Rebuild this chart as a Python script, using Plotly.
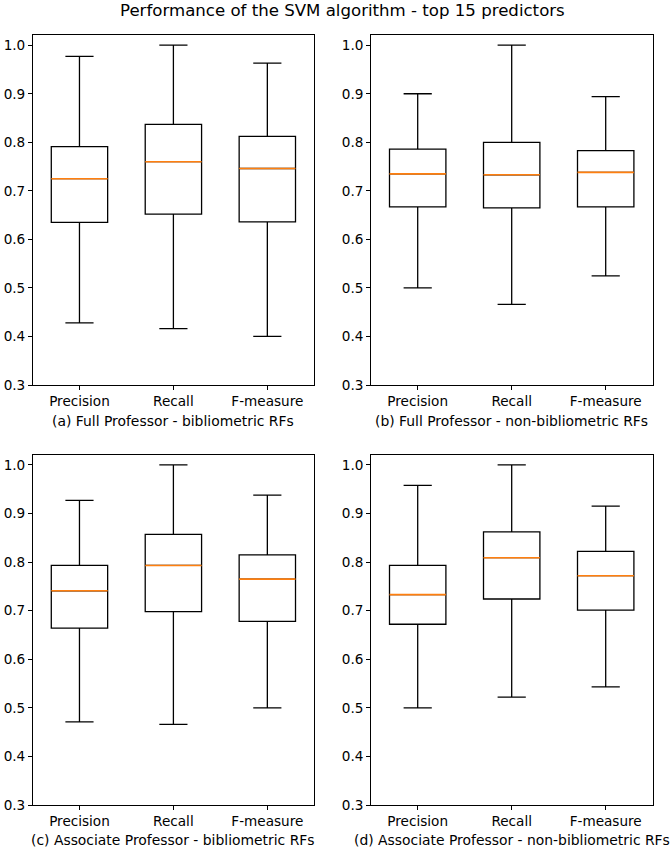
import plotly.graph_objects as go

metrics = ["Precision", "Recall", "F-measure"]

panel_labels = [
    "(a) Full Professor - bibliometric RFs",
    "(b) Full Professor - non-bibliometric RFs",
    "(c) Associate Professor - bibliometric RFs",
    "(d) Associate Professor - non-bibliometric RFs",
]

# (a) Full Professor - bibliometric RFs
a_low = [0.428, 0.416, 0.400]
a_q1 = [0.635, 0.652, 0.636]
a_med = [0.725, 0.760, 0.746]
a_q3 = [0.791, 0.837, 0.812]
a_high = [0.977, 1.000, 0.963]

# (b) Full Professor - non-bibliometric RFs
b_low = [0.500, 0.466, 0.525]
b_q1 = [0.667, 0.665, 0.667]
b_med = [0.735, 0.733, 0.738]
b_q3 = [0.786, 0.800, 0.783]
b_high = [0.900, 1.000, 0.894]

# (c) Associate Professor - bibliometric RFs
c_low = [0.471, 0.466, 0.500]
c_q1 = [0.664, 0.698, 0.678]
c_med = [0.741, 0.793, 0.765]
c_q3 = [0.793, 0.857, 0.815]
c_high = [0.927, 1.000, 0.938]

# (d) Associate Professor - non-bibliometric RFs
d_low = [0.500, 0.522, 0.543]
d_q1 = [0.672, 0.724, 0.701]
d_med = [0.733, 0.809, 0.772]
d_q3 = [0.793, 0.862, 0.822]
d_high = [0.958, 1.000, 0.915]

y_ticks = [0.3, 0.4, 0.5, 0.6, 0.7, 0.8, 0.9, 1.0]

panels = [
    (a_low, a_q1, a_med, a_q3, a_high),
    (b_low, b_q1, b_med, b_q3, b_high),
    (c_low, c_q1, c_med, c_q3, c_high),
    (d_low, d_q1, d_med, d_q3, d_high),
]

W, H = 671, 849
FONT = "DejaVu Sans"
TICK_SIZE = 13.6
LABEL_SIZE = 13.9
TITLE_SIZE = 16.6

# pixel geometry of the axes boxes
cols = [(32.5, 314.3), (370.7, 652.7)]
rows = [(35.0, 385.0), (454.7, 805.0)]

fig = go.Figure()
layout = dict(
    template="none",
    width=W, height=H,
    margin=dict(l=0, r=0, t=0, b=0, autoexpand=False),
    paper_bgcolor="white", plot_bgcolor="white",
    showlegend=False,
    boxgap=0.4,
    boxgroupgap=0,
    boxmode="overlay",
    font=dict(family=FONT, size=TICK_SIZE, color="black"),
    annotations=[],
)

for i, (lo, q1, med, q3, hi) in enumerate(panels):
    r, c = divmod(i, 2)
    idx = i + 1
    xa = "x" if idx == 1 else f"x{idx}"
    ya = "y" if idx == 1 else f"y{idx}"
    fig.add_trace(go.Box(
        x=metrics, q1=q1, median=med, q3=q3, lowerfence=lo, upperfence=hi,
        xaxis=xa, yaxis=ya,
        fillcolor="rgba(0,0,0,0)",
        line=dict(color="black", width=1.3),
        whiskerwidth=0.5, boxpoints=False, hoverinfo="skip",
    ))
    # median line drawn in orange as a degenerate box
    fig.add_trace(go.Box(
        x=metrics, q1=med, median=med, q3=med, lowerfence=med, upperfence=med,
        xaxis=xa, yaxis=ya,
        fillcolor="rgba(0,0,0,0)",
        line=dict(color="#ff7f0e", width=1.6),
        whiskerwidth=0, boxpoints=False, hoverinfo="skip",
    ))
    x0, x1 = cols[c]
    y0, y1 = rows[r]
    xkey = "xaxis" if idx == 1 else f"xaxis{idx}"
    ykey = "yaxis" if idx == 1 else f"yaxis{idx}"
    layout[xkey] = dict(
        domain=[x0 / W, x1 / W], anchor=ya, automargin=False,
        type="category", categoryorder="array", categoryarray=metrics,
        range=[-0.5, 2.5],
        showline=True, mirror=True, linecolor="black", linewidth=1,
        ticks="outside", ticklen=3.5, tickwidth=1, tickcolor="black",
        showgrid=False, zeroline=False,
        tickfont=dict(family=FONT, size=TICK_SIZE, color="black"),
    )
    layout[ykey] = dict(
        domain=[1 - y1 / H, 1 - y0 / H], anchor=xa, automargin=False,
        range=[0.3, 1.021],
        tickvals=y_ticks, ticktext=[f"{v:.1f}" for v in y_ticks],
        showline=True, mirror=True, linecolor="black", linewidth=1,
        ticks="outside", ticklen=3.5, tickwidth=1, tickcolor="black",
        showgrid=False, zeroline=False,
        tickfont=dict(family=FONT, size=TICK_SIZE, color="black"),
    )
    label_y = 420.5 if r == 0 else 840.0
    layout["annotations"].append(dict(
        text=panel_labels[i], xref="paper", yref="paper",
        x=(x0 + x1) / 2 / W, y=1 - label_y / H,
        xanchor="center", yanchor="middle", showarrow=False,
        font=dict(family=FONT, size=LABEL_SIZE, color="black"),
    ))

layout["annotations"].append(dict(
    text="Performance of the SVM algorithm - top 15 predictors",
    xref="paper", yref="paper", x=342.5 / W, y=1 - 10.5 / H,
    xanchor="center", yanchor="middle", showarrow=False,
    font=dict(family=FONT, size=TITLE_SIZE, color="black"),
))

fig.update_layout(**layout)
fig.write_html(
    "out.html",
    config={"displayModeBar": False, "staticPlot": True},
    post_script="document.body.style.margin='0';document.body.style.padding='0';"
                "document.body.style.overflow='hidden';",
)
